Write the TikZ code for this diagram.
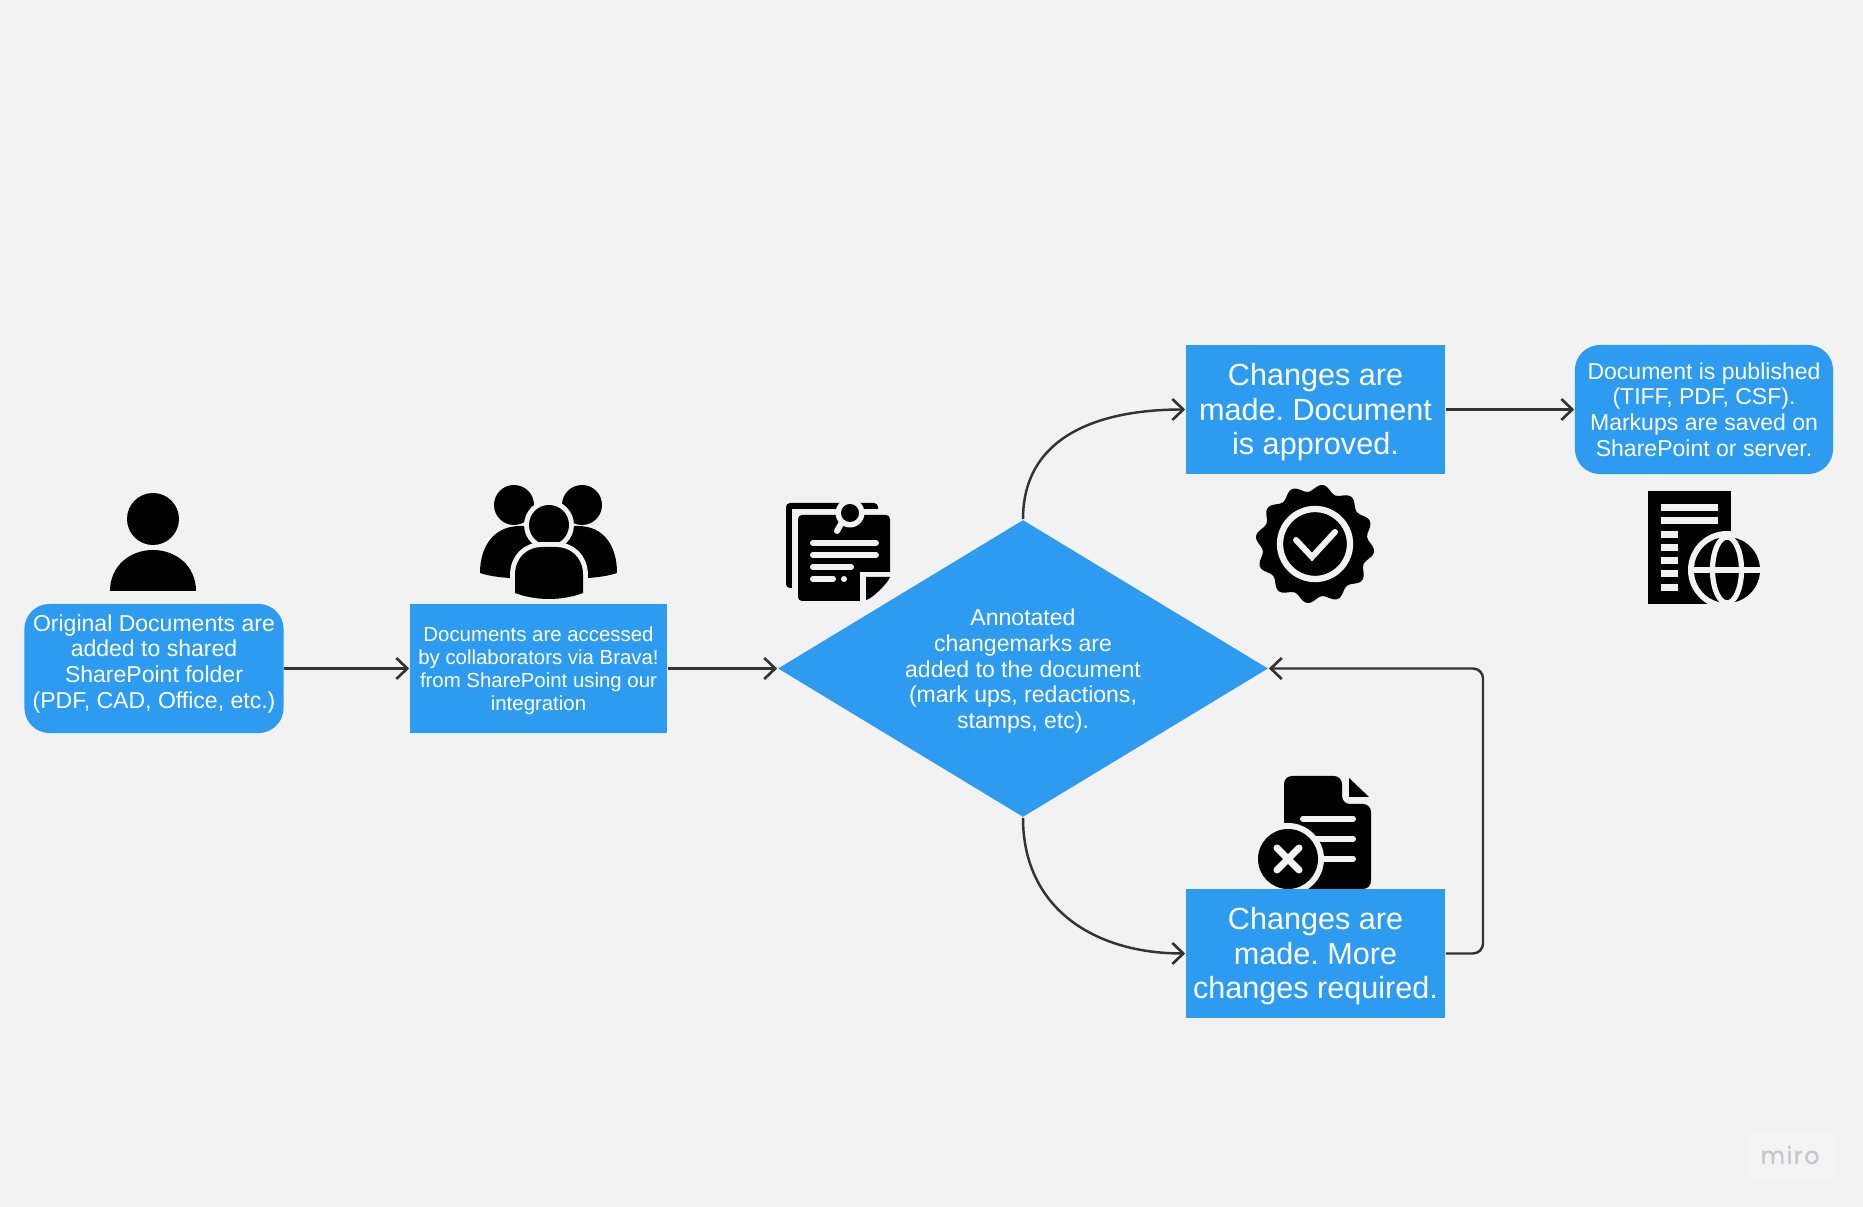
\documentclass[tikz,border=0pt]{standalone}
\usepackage{fontspec}
\usepackage{xcolor}
\usetikzlibrary{shapes.geometric}
\usetikzlibrary{arrows.meta}
\setmainfont{Liberation Sans}
\newfontfamily\mirofont[FakeBold=0.5]{Poppins}

\definecolor{bgcol}{HTML}{F2F2F2}
\definecolor{boxblue}{HTML}{2D9BF0}
\definecolor{linecol}{HTML}{333333}
\definecolor{mirogrey}{HTML}{C6C7CC}

% small struts that move a block of lines up or down inside its box
\newcommand{\moveup}[1]{\rule[-#1]{0pt}{#1}}
\newcommand{\movedown}[1]{\rule{0pt}{#1}}

\tikzset{
	box/.style={fill=boxblue, text=white, align=center, inner sep=0pt, minimum width=2.59cm, minimum height=1.29cm},
	midtext/.style={font=\frenchspacing\fontsize{6.55}{7.3}\selectfont},
	smalltext/.style={font=\frenchspacing\fontsize{5.8}{6.55}\selectfont},
	bigtext/.style={font=\frenchspacing\fontsize{8.7}{9.8}\selectfont},
	conn/.style={->, >={Straight Barb[length=1.1mm, width=2.1mm, line width=0.75pt]}, line width=0.7pt, color=linecol},
	gap/.style={line width=1.7pt, color=bgcol, line cap=round},
	halo/.style={preaction={draw=bgcol, line width=2.8pt}},
}

\begin{document}
\begin{tikzpicture}[x=0.01cm, y=-0.01cm]
	\fill[bgcol] (0,0) rectangle (1863,1207);
	\useasboundingbox (0,0) rectangle (1863,1207);

	% person
	\fill (153,519) circle (26);
	\fill (110,591) .. controls (110,566) and (130,550) .. (153,550) .. controls (176,550) and (196,566) .. (196,591) -- cycle;

	% group of people
	\fill (514,505) circle (20);
	\fill (582,505) circle (20);
	\fill (480,573) .. controls (480,545) and (495,526) .. (520,526) -- (578,526) .. controls (603,526) and (617,545) .. (617,573) .. controls (600,579) and (570,579) .. (549,579) .. controls (528,579) and (497,579) .. (480,573) -- cycle;
	\fill[halo] (549,525) circle (20);
	\fill[halo] (515,593) -- (515,575) .. controls (515,557) and (528,547) .. (542,547) -- (556,547) .. controls (570,547) and (583,557) .. (583,575) -- (583,593) .. controls (562,601) and (536,601) .. (515,593) -- cycle;

	% annotated sheet
	\fill[rounded corners=0.04cm] (786,503) rectangle (878,588);
	\fill[bgcol] (792,509) rectangle (892,603);
	\fill[rounded corners=0.04cm] (798,515) rectangle (890,601);
	\fill[bgcol] (860,572) rectangle (891,602);
	\fill (866,577) -- (890,577) .. controls (888,583) and (872,599) .. (866,600) -- cycle;
	\fill[bgcol] (850,513) circle (14.5);
	\fill (850,513) circle (9);
	\draw[gap] (841,524) -- (837,531);
	\draw[gap] (813,543) -- (876,543);
	\draw[gap] (813,555) -- (876,555);
	\draw[gap] (813,567) -- (851,567);
	\draw[gap] (813,579) -- (833,579);
	\fill[bgcol] (844,579) circle (3);

	% seal with tick
	\fill plot[smooth cycle, samples=96, domain=0:356.25] ({1315+(56+3.5*cos(12*\x-90))*cos(\x)}, {544+(56+3.5*cos(12*\x-90))*sin(\x)});
	\draw[color=bgcol, line width=1.8pt] (1315,544) circle (35);
	\draw[gap] (1296,540) -- (1312,557) -- (1335,532);

	% published sheet with globe
	\fill (1648,491) rectangle (1731,604);
	\fill[bgcol] (1661,504) rectangle (1718,511);
	\fill[bgcol] (1661,517) rectangle (1718,524);
	\foreach \y in {531,544,557,570,584}
		\fill[bgcol] (1661,\y) rectangle (1678,\y+7);
	\fill[bgcol] (1727,570) circle (39);
	\fill (1727,570) circle (33);
	\fill[bgcol] (1692,567) rectangle (1762,573);
	\draw[color=bgcol, line width=1.5pt] (1727,570) ellipse (14.5 and 33);

	% rejected sheet
	\fill[rounded corners=0.08cm] (1284,776) -- (1342,776) -- (1342,804) -- (1371,804) -- (1371,889) -- (1284,889) -- cycle;
	\fill (1349,778) -- (1369,797) -- (1349,797) -- cycle;
	\draw[gap] (1303,819) -- (1353,819);
	\draw[gap] (1303,839) -- (1353,839);
	\draw[gap] (1303,859) -- (1353,859);
	\fill[bgcol] (1288,859) circle (36);
	\fill (1288,859) circle (30);
	\draw[gap, line width=2pt] (1277,848) -- (1299,870);
	\draw[gap, line width=2pt] (1299,848) -- (1277,870);

	\node[box, midtext, rounded corners=0.25cm] at (154,668.5) (orig) {Original Documents are\\added to shared\\SharePoint folder\\(PDF, CAD, Office, etc.)\moveup{4.1pt}};
	\node[box, smalltext, minimum width=2.57cm] at (538.5,668.5) (access) {\movedown{5.6pt}Documents are accessed\\by collaborators via Brava!\\from SharePoint using our\\integration};
	\node[diamond, aspect=1.65, fill=boxblue, text=white, align=center, midtext, inner sep=0pt, minimum width=4.9cm, minimum height=2.97cm] at (1023,668.5) (annot) {\movedown{6.2pt}Annotated\\changemarks are\\added to the document\\(mark ups, redactions,\\stamps, etc).};
	\node[box, bigtext] at (1315.5,409.5) (approved) {\movedown{7.9pt}Changes are\\made. Document\\is approved.};
	\node[box, bigtext] at (1315.5,953.5) (more) {\movedown{7.9pt}Changes are\\made. More\\changes required.};
	\node[box, midtext, rounded corners=0.25cm, minimum width=2.58cm] at (1704,409.5) (pub) {Document is published\\(TIFF, PDF, CSF).\\Markups are saved on\\SharePoint or server.};

	\coordinate (back) at (1483,800);

	\draw[conn] (orig) -- (access);
	\draw[conn] (access) -- (annot);
	\draw[conn] (annot.north) to[out=90, in=180, looseness=1.1] (approved.west);
	\draw[conn] (annot.south) to[out=-90, in=180, looseness=1.1] (more.west);
	\draw[conn] (approved) -- (pub);
	\draw[conn, rounded corners=0.1cm] (more.east) -| (back) |- (annot.east);

	\node[fill=white, fill opacity=0.2, text opacity=1, text=mirogrey, rounded corners=0.03cm, inner sep=0pt, minimum width=0.86cm, minimum height=0.46cm, font=\mirofont\fontsize{6.8}{7}\selectfont\addfontfeature{LetterSpace=6}] at (1790,1155) (miro) {miro};
\end{tikzpicture}
\end{document}
